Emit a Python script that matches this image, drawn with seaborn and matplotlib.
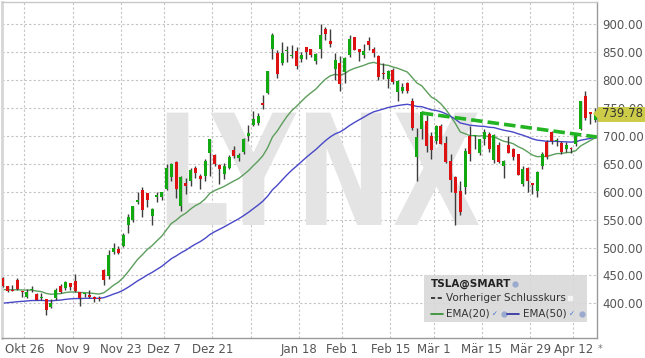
import numpy as np
import pandas as pd
import matplotlib
matplotlib.use("Agg")
import matplotlib.pyplot as plt
from matplotlib.patches import Rectangle, Polygon
from matplotlib.lines import Line2D
from matplotlib.patheffects import AbstractPathEffect
from matplotlib.transforms import Affine2D
import seaborn as sns

# ---------------- data ----------------
dates = (
    ["2020-10-%02d" % d for d in (19, 20, 21, 22, 23, 26, 27, 28, 29, 30)]
    + ["2020-11-%02d" % d for d in (2, 3, 4, 5, 6, 9, 10, 11, 12, 13, 16, 17, 18, 19, 20, 23, 24, 25, 27, 30)]
    + ["2020-12-%02d" % d for d in (1, 2, 3, 4, 7, 8, 9, 10, 11, 14, 15, 16, 17, 18, 21, 22, 23, 24, 28, 29, 30, 31)]
    + ["2021-01-%02d" % d for d in (4, 5, 6, 7, 8, 11, 12, 13, 14, 15, 19, 20, 21, 22, 25, 26, 27, 28, 29)]
    + ["2021-02-%02d" % d for d in (1, 2, 3, 4, 5, 8, 9, 10, 11, 12, 16, 17, 18, 19, 22, 23, 24, 25, 26)]
    + ["2021-03-%02d" % d for d in (1, 2, 3, 4, 5, 8, 9, 10, 11, 12, 15, 16, 17, 18, 19, 22, 23, 24, 25, 26, 29, 30, 31)]
    + ["2021-04-%02d" % d for d in (1, 5, 6, 7, 8, 9, 12, 13, 14, 15, 16)]
)
opens = [446.2, 431.8, 422.7, 441.9, 421.8, 411.6, 423.8, 416.5, 409.9, 406.9,
         394.0, 409.7, 430.6, 428.3, 436.1, 439.5, 420.1, 416.5, 415.1, 410.9,
         408.9, 460.2, 448.4, 492.0, 498.0, 503.5, 540.4, 550.1, 581.2, 602.2,
         597.6, 556.4, 590.0, 591.0, 604.9, 625.5, 653.7, 574.4, 615.0, 619.0,
         643.3, 628.2, 628.2, 668.9, 666.2, 648.0, 632.2, 643.0, 674.5, 661.0,
         672.0, 700.0, 719.5, 723.7, 758.5, 777.6, 856.0, 849.4, 831.0, 852.8,
         843.4, 852.0, 837.8, 858.7, 855.0, 834.3, 855.0, 891.4, 870.4, 820.0,
         830.0, 814.3, 844.7, 877.0, 855.0, 845.0, 869.7, 855.1, 843.6, 812.4,
         801.3, 818.0, 779.1, 780.9, 795.0, 762.6, 662.1, 711.9, 726.2, 700.0,
         690.1, 718.3, 688.0, 655.8, 626.1, 600.6, 608.2, 700.3, 699.4, 670.0,
         694.1, 703.4, 656.9, 684.3, 646.6, 684.6, 675.8, 667.9, 613.0, 641.9,
         615.6, 601.8, 646.6, 688.4, 707.7, 690.3, 687.0, 677.4, 677.8, 685.7,
         712.7, 770.7, 743.1, 728.7]
highs = [447.0, 431.8, 432.9, 445.2, 422.9, 425.8, 430.5, 418.6, 418.1, 407.6,
         407.0, 427.8, 435.4, 440.0, 436.6, 452.5, 421.0, 418.7, 423.0, 412.5,
         412.5, 462.0, 496.0, 508.6, 502.5, 526.0, 560.0, 574.0, 598.8, 607.8,
         597.9, 571.5, 599.0, 599.0, 648.8, 651.3, 654.3, 627.8, 624.0, 642.8,
         646.9, 632.5, 658.8, 695.0, 668.5, 649.9, 651.5, 666.1, 681.4, 669.9,
         696.6, 718.7, 744.5, 740.8, 774.0, 817.0, 884.5, 854.4, 868.0, 860.5,
         863.0, 859.9, 850.0, 859.5, 855.7, 848.0, 900.4, 895.9, 891.5, 848.0,
         842.4, 842.0, 880.5, 878.1, 856.5, 864.8, 877.8, 859.8, 844.8, 829.9,
         817.3, 821.0, 799.8, 794.7, 796.8, 768.5, 713.6, 745.0, 737.2, 706.7,
         719.0, 721.1, 700.7, 668.5, 627.8, 620.1, 678.1, 717.9, 702.5, 694.9,
         713.2, 707.9, 703.7, 689.2, 657.2, 699.6, 677.8, 668.0, 645.5, 643.8,
         616.5, 637.7, 672.0, 692.4, 708.2, 696.6, 691.4, 689.6, 681.0, 704.8,
         763.0, 780.8, 743.7, 749.4]
lows = [428.9, 419.5, 421.3, 424.5, 410.6, 410.0, 420.1, 406.0, 406.5, 379.1,
        392.3, 406.7, 417.8, 424.0, 424.3, 421.0, 396.0, 410.6, 409.5, 401.7,
        404.1, 433.0, 443.5, 487.6, 489.1, 501.8, 526.2, 545.4, 578.5, 554.5,
        572.1, 541.2, 582.4, 585.5, 603.1, 618.5, 588.0, 566.3, 596.8, 610.2,
        623.8, 605.0, 619.5, 628.5, 646.1, 614.2, 622.6, 641.0, 660.8, 655.0,
        668.4, 691.1, 717.2, 719.2, 749.1, 775.2, 838.4, 803.6, 827.3, 832.0,
        838.8, 819.1, 833.0, 837.3, 841.4, 828.6, 838.8, 871.6, 858.7, 801.0,
        780.1, 795.6, 842.2, 853.1, 833.4, 839.0, 854.8, 841.8, 800.0, 801.7,
        785.3, 792.4, 762.0, 776.3, 777.4, 710.2, 619.0, 694.2, 670.6, 659.5,
        685.1, 685.0, 651.7, 600.0, 539.5, 558.8, 595.2, 655.1, 677.2, 666.1,
        684.0, 671.0, 651.0, 652.0, 624.6, 668.8, 657.5, 630.1, 609.5, 599.9,
        596.0, 591.0, 641.1, 659.4, 684.7, 681.4, 667.8, 671.7, 669.4, 682.1,
        710.7, 728.0, 721.3, 724.6]
closes = [430.8, 421.9, 422.6, 425.8, 420.3, 420.3, 424.7, 406.0, 410.7, 388.0,
          400.5, 423.9, 421.0, 438.1, 430.0, 421.3, 410.4, 417.1, 411.8, 408.5,
          408.1, 441.6, 486.6, 499.3, 489.6, 521.9, 555.4, 574.0, 585.8, 567.6,
          584.8, 568.8, 593.4, 599.0, 641.8, 649.9, 604.5, 627.1, 610.0, 639.8,
          633.3, 622.8, 655.9, 695.0, 649.9, 640.3, 646.0, 661.8, 663.7, 666.0,
          694.8, 705.7, 729.8, 735.1, 756.0, 816.0, 880.0, 811.2, 849.4, 854.4,
          845.0, 826.2, 844.6, 850.5, 845.0, 846.6, 880.8, 883.1, 864.2, 835.4,
          793.5, 839.8, 872.8, 854.7, 850.0, 852.2, 863.4, 849.5, 804.8, 811.7,
          816.1, 796.2, 798.2, 787.4, 781.3, 714.5, 698.8, 742.0, 682.2, 675.5,
          718.4, 686.4, 653.2, 621.4, 598.0, 563.0, 673.6, 668.1, 699.6, 693.7,
          707.9, 676.9, 701.8, 653.2, 654.9, 670.0, 662.2, 630.3, 640.4, 618.7,
          611.3, 635.6, 667.9, 661.8, 691.1, 691.6, 671.0, 683.8, 677.0, 702.0,
          762.3, 732.2, 738.9, 739.78]

tick_dates = ["2020-10-26", "2020-11-09", "2020-11-23", "2020-12-07", "2020-12-21",
              "2021-01-04", "2021-01-19", "2021-02-01", "2021-02-16", "2021-03-01",
              "2021-03-15", "2021-03-29", "2021-04-12"]
tick_labels = ["Okt 26", "Nov 9", "Nov 23", "Dez 7", "Dez 21", "", "Jan 18",
               "Feb 1", "Feb 15", "Mär 1", "Mär 15", "Mär 29", "Apr 12"]
y_ticks = [400, 450, 500, 550, 600, 650, 700, 750, 800, 850, 900]

ema20_start = 424.0   # EMA(20) level read at the left edge
ema50_start = 399.0   # EMA(50) level read at the left edge
trend_dates = ["2021-02-24", "2021-04-16"]
trend_values = [741.0, 698.0]
last_close = 739.78
watermark = "LYNX"

# ---------------- figure ----------------
sns.set_theme(style="white")
plt.rcParams["font.family"] = ["DejaVu Sans"]

W, H = 645, 358
fig = plt.figure(figsize=(W / 100, H / 100), dpi=100)
L_px, R_px, T_px, B_px = 2, 597, 2, 337.7
ax = fig.add_axes([L_px / W, (H - B_px) / H, (R_px - L_px) / W, (B_px - T_px) / H])
fig.patch.set_facecolor("white")
ax.set_facecolor("white")

df = pd.DataFrame({"date": dates, "open": opens, "high": highs, "low": lows, "close": closes})
df["i"] = np.arange(len(df))
pos = {d: i for i, d in enumerate(dates)}


def ema(values, span, start):
    a = 2.0 / (span + 1)
    e = start
    out = []
    for v in values:
        e = a * v + (1 - a) * e
        out.append(e)
    return out


df["ema20"] = ema(df["close"], 20, ema20_start)
df["ema50"] = ema(df["close"], 50, ema50_start)

x_lo, x_hi = -0.17, 123.4
ax.set_xlim(x_lo, x_hi)
ax.set_ylim(338.4, 940.0)

# grid
grid_kw = dict(color="#c4c4c4", lw=0.8, ls=(0, (2, 2)), zorder=0)
for yv in y_ticks:
    ax.axhline(yv, **grid_kw)
tick_x = [pos[d] - 0.5 for d in tick_dates]
for xv in tick_x:
    ax.axvline(xv, **grid_kw)


# watermark: one text, condensed horizontally through a path effect
class HStretch(AbstractPathEffect):
    def __init__(self, sx, x0):
        super().__init__()
        self.sx = sx
        self.x0 = x0

    def draw_path(self, renderer, gc, tpath, affine, rgbFace=None):
        t = affine + Affine2D().translate(-self.x0, 0).scale(self.sx, 1.0).translate(self.x0, 0)
        renderer.draw_path(gc, tpath, t, rgbFace)


wm_x = 156
ax.text(wm_x / W, (H - 225) / H, watermark, transform=fig.transFigure, fontsize=111,
        fontweight="bold", family="DejaVu Sans", color="#e4e4e4", ha="left",
        va="baseline", zorder=0.5, path_effects=[HStretch(0.75, wm_x)])

# EMA lines
sns.lineplot(data=df, x="i", y="ema20", ax=ax, color="#5c9e5c", lw=1.0, zorder=2, legend=False)
sns.lineplot(data=df, x="i", y="ema50", ax=ax, color="#4848c8", lw=1.0, zorder=2, legend=False)

# candles
up = df["close"] >= df["open"]
colors = np.where(up, "#12a812", "#dd1111")
ax.vlines(df["i"], df["low"], df["high"], color="#3c3c3c", lw=1.0, zorder=3)
body_lo = np.minimum(df["open"], df["close"])
body_h = np.maximum(np.abs(df["close"] - df["open"]), 1.6)
ax.bar(df["i"], body_h, bottom=body_lo, width=0.62, color=colors, edgecolor="none", zorder=4)

# trend line
ax.plot([pos[trend_dates[0]], x_hi], trend_values, color="#22b422", lw=2.6,
        ls=(0, (3.2, 1.4)), zorder=5, solid_capstyle="butt")

# axes styling
ax.set_xticks(tick_x)
ax.set_xticklabels(tick_labels)
ax.set_yticks(y_ticks)
ax.set_yticklabels(["%.2f" % v for v in y_ticks])
ax.yaxis.tick_right()
ax.tick_params(axis="both", length=0, labelsize=8.5, colors="#555555")
ax.tick_params(axis="y", pad=4)
ax.tick_params(axis="x", pad=3.5)
ax.set_xlabel("")
ax.set_ylabel("")
for side, col in (("top", "#c8c8c8"), ("left", "#d6d6d6"), ("right", "#9a9a9a"), ("bottom", "#9a9a9a")):
    ax.spines[side].set_color(col)
    ax.spines[side].set_linewidth(1.0)
ax.spines["left"].set_linewidth(2.0)

fig.text(600 / W, (H - 349) / H, "*", fontsize=7, color="#777777", ha="center", va="center")

# price marker
py = 24.3 + (900 - last_close) * 0.558
poly = Polygon([(593 / W, (H - py) / H), (598 / W, (H - py + 5) / H), (598 / W, (H - 107) / H),
                (645 / W, (H - 107) / H), (645 / W, (H - 122) / H), (598 / W, (H - 122) / H),
                (598 / W, (H - py - 5) / H)],
               closed=True, transform=fig.transFigure, facecolor="#cccc48", edgecolor="none", zorder=5)
fig.patches.append(poly)
fig.text(602 / W, (H - py) / H, "%.2f" % last_close, fontsize=8.5, color="#333333",
         ha="left", va="center", zorder=6)

# legend box
fig.patches.append(Rectangle((424 / W, (H - 322) / H), (587 - 424) / W, (322 - 275) / H,
                             transform=fig.transFigure, facecolor="#d9d9d9", edgecolor="none",
                             alpha=0.92, zorder=5))
fs = 7.5
fig.text(431 / W, (H - 284) / H, "TSLA@SMART", fontsize=fs, fontweight="bold", color="#222222",
         ha="left", va="center", zorder=6)
fig.lines.append(Line2D([515 / W], [(H - 284) / H], transform=fig.transFigure, marker="o",
                        markersize=3.5, color="#9aaace", zorder=6))
fig.lines.append(Line2D([431 / W, 443 / W], [(H - 298) / H] * 2, transform=fig.transFigure,
                        color="#222222", lw=1.2, ls=(0, (2.5, 1.5)), zorder=6))
fig.text(446 / W, (H - 298) / H, "Vorheriger Schlusskurs", fontsize=fs, color="#333333",
         ha="left", va="center", zorder=6)
fig.lines.append(Line2D([570 / W], [(H - 298) / H], transform=fig.transFigure, marker="s",
                        markersize=3, color="#f4f4f4", zorder=6))
ry = (H - 314) / H
fig.lines.append(Line2D([431 / W, 443 / W], [ry] * 2, transform=fig.transFigure,
                        color="#2e8b2e", lw=1.2, zorder=6))
fig.text(446 / W, ry, "EMA(20)", fontsize=fs, color="#333333", ha="left", va="center", zorder=6)
fig.text(495 / W, ry, "✓", fontsize=5, color="#3a6fd0", ha="center", va="center", zorder=6)
fig.lines.append(Line2D([504 / W], [ry], transform=fig.transFigure, marker="o",
                        markersize=3.5, color="#9aaace", zorder=6))
fig.lines.append(Line2D([507 / W, 519 / W], [ry] * 2, transform=fig.transFigure,
                        color="#2a2aa0", lw=1.2, zorder=6))
fig.text(523 / W, ry, "EMA(50)", fontsize=fs, color="#333333", ha="left", va="center", zorder=6)
fig.text(572 / W, ry, "✓", fontsize=5, color="#3a6fd0", ha="center", va="center", zorder=6)
fig.lines.append(Line2D([582 / W], [ry], transform=fig.transFigure, marker="o",
                        markersize=3.5, color="#9aaace", zorder=6))

fig.savefig("out.png", dpi=100, facecolor="white")
